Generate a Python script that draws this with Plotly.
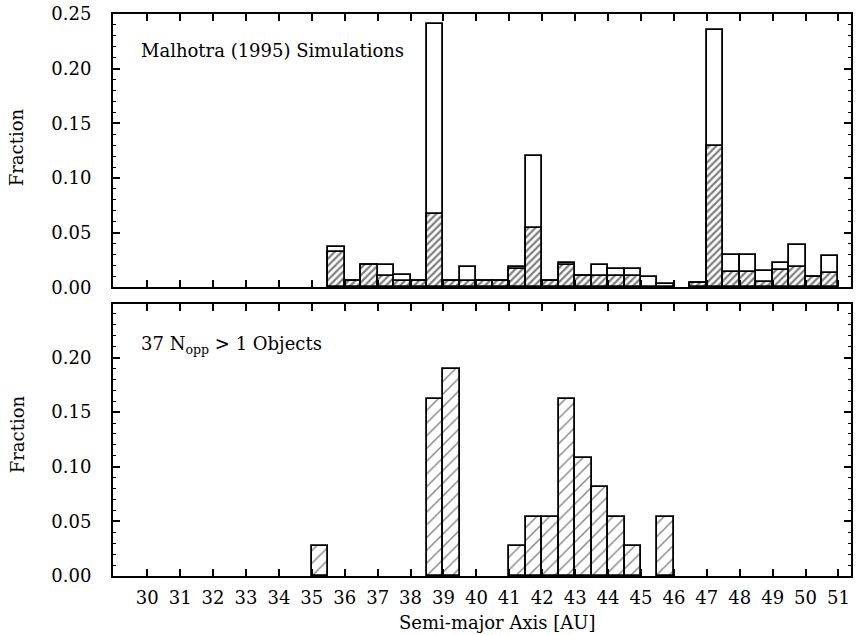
import plotly.graph_objects as go

# Semi-major axis histogram bins (lower edges, AU); each bin is 0.5 AU wide
BIN_WIDTH = 0.5

sim_edges = [35.5, 36.0, 36.5, 37.0, 37.5, 38.0, 38.5, 39.0, 39.5, 40.0,
             40.5, 41.0, 41.5, 42.0, 42.5, 43.0, 43.5, 44.0, 44.5, 45.0,
             45.5, 46.0, 46.5, 47.0, 47.5, 48.0, 48.5, 49.0, 49.5, 50.0, 50.5]
# Malhotra (1995) simulations: all particles (open) and the hatched subset
sim_all = [0.037, 0.0055, 0.020, 0.020, 0.011, 0.0055, 0.241, 0.0055, 0.019, 0.0055,
           0.0055, 0.019, 0.120, 0.0055, 0.022, 0.0105, 0.020, 0.0165, 0.0165, 0.009,
           0.0027, 0.0, 0.0035, 0.235, 0.030, 0.030, 0.015, 0.022, 0.0387, 0.0095, 0.029]
sim_hatched = [0.032, 0.0055, 0.020, 0.0105, 0.0055, 0.0055, 0.067, 0.0055, 0.0055, 0.0055,
               0.0055, 0.017, 0.054, 0.0055, 0.020, 0.0105, 0.0105, 0.0105, 0.0105, 0.0,
               0.0, 0.0, 0.0035, 0.129, 0.0137, 0.0137, 0.0046, 0.016, 0.019, 0.0095, 0.0134]

# Observed objects with more than one opposition (37 in total)
obs_edges = [35.0, 38.5, 39.0, 41.0, 41.5, 42.0, 42.5, 43.0, 43.5, 44.0, 44.5, 45.5]
obs_counts = [1, 6, 7, 1, 2, 2, 6, 4, 3, 2, 1, 2]
N_OBJECTS = 37

x_ticks = list(range(30, 52))
y_ticks = [0.00, 0.05, 0.10, 0.15, 0.20, 0.25]
y_ticks_low = [0.00, 0.05, 0.10, 0.15, 0.20]

FONT = "DejaVu Serif"
W, H = 856, 635
ML, MR, MT, MB = 113, 3, 14, 59


def nonzero(edges, vals):
    pairs = [(e, v) for e, v in zip(edges, vals) if v > 0]
    return [p[0] for p in pairs], [p[1] for p in pairs]


fig = go.Figure()

ex, ev = nonzero(sim_edges, sim_all)
fig.add_trace(go.Bar(
    x=ex, y=ev, width=BIN_WIDTH, offset=0, xaxis="x", yaxis="y",
    marker=dict(color="white", line=dict(color="black", width=1.8)),
    showlegend=False))

hx, hv = nonzero(sim_edges, sim_hatched)
fig.add_trace(go.Bar(
    x=hx, y=hv, width=BIN_WIDTH, offset=0, xaxis="x", yaxis="y",
    marker=dict(color="white", line=dict(color="black", width=1.8),
                pattern=dict(shape="/", size=5, solidity=0.45,
                             fgcolor="black", bgcolor="white", fillmode="overlay")),
    showlegend=False))

obs_frac = [c / N_OBJECTS for c in obs_counts]
fig.add_trace(go.Bar(
    x=obs_edges, y=obs_frac, width=BIN_WIDTH, offset=0, xaxis="x2", yaxis="y2",
    marker=dict(color="white", line=dict(color="black", width=1.8),
                pattern=dict(shape="/", size=9, solidity=0.15,
                             fgcolor="black", bgcolor="white", fillmode="overlay")),
    showlegend=False))

tick_font = dict(family=FONT, size=18, color="black")
x_range = [28.96, 51.38]

common_x = dict(range=x_range, tickvals=x_ticks, ticks="inside", ticklen=7, tickwidth=1.5,
                tickcolor="black", showline=True, linecolor="black", linewidth=2,
                mirror="ticks", showgrid=False, zeroline=False, tickfont=tick_font)
common_y = dict(tickformat=".2f", ticks="inside", ticklen=7, tickwidth=1.5, tickcolor="black",
                showline=True, linecolor="black", linewidth=2, mirror="ticks",
                showgrid=False, zeroline=False, tickfont=tick_font, ticklabelstandoff=16,
                minor=dict(dtick=0.01, ticks="inside", ticklen=3, tickcolor="black",
                           tickwidth=1.2, showgrid=False))

fig.update_layout(
    width=W, height=H, margin=dict(l=ML, r=MR, t=MT, b=MB),
    paper_bgcolor="white", plot_bgcolor="white", barmode="overlay", bargap=0,
    xaxis=dict(common_x, anchor="y", showticklabels=False),
    yaxis=dict(common_y, domain=[0.5137, 1.0], range=[0, 0.25], tickvals=y_ticks, anchor="x"),
    xaxis2=dict(common_x, anchor="y2", ticklabelstandoff=4),
    yaxis2=dict(common_y, domain=[0.0, 0.484], range=[0, 0.249], tickvals=y_ticks_low, anchor="x2"),
)

pw = W - ML - MR
ph = H - MT - MB


def px(x):
    return (x - ML) / pw


def py(y):
    return (H - MB - y) / ph


label_font = dict(family=FONT, size=18, color="black")
fig.add_annotation(text="Malhotra (1995) Simulations", x=px(139), y=py(51), xref="paper", yref="paper",
                   xanchor="left", yanchor="middle", showarrow=False, font=label_font)
fig.add_annotation(text="37 N<sub>opp</sub> > 1 Objects", x=px(139), y=py(345), xref="paper",
                   yref="paper", xanchor="left", yanchor="middle", showarrow=False, font=label_font)
fig.add_annotation(text="Semi-major Axis [AU]", x=px(499), y=py(622), xref="paper", yref="paper",
                   xanchor="center", yanchor="middle", showarrow=False, font=label_font)
for yc in (147, 434):
    fig.add_annotation(text="Fraction", x=px(17), y=py(yc), xref="paper", yref="paper",
                       xanchor="center", yanchor="middle", showarrow=False, textangle=-90,
                       font=label_font)

fig.write_html("out.html")
